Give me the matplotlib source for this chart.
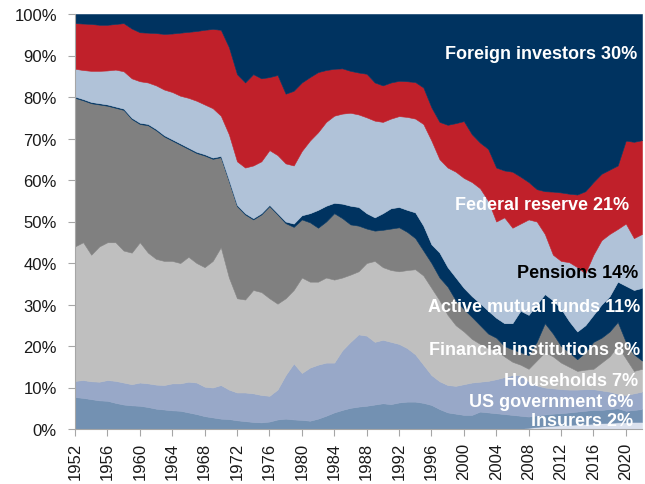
#
# Who holds US Treasuries: stacked shares 1952-2022
#

import numpy as np
import matplotlib.pyplot as plt

plt.rcParams['font.family'] = ['Liberation Sans', 'DejaVu Sans']

years = np.arange(1952, 2023)

# cumulative level (top edge, % of total) of each holder group, bottom to top
other_top = [0.0] * 56 + [0.3, 0.5, 0.7, 0.8, 0.9, 1.0, 1.1, 1.2, 1.3, 1.4, 1.5, 1.6, 1.6, 1.7, 1.7]

insurers_top = [7.7, 7.5, 7.2, 6.9, 6.8, 6.3, 5.9, 5.7, 5.6, 5.3,
                4.9, 4.7, 4.5, 4.4, 4.0, 3.6, 3.1, 2.8, 2.5, 2.4,
                2.1, 1.9, 1.7, 1.6, 1.8, 2.3, 2.5, 2.3, 2.2, 2.0,
                2.5, 3.2, 4.0, 4.6, 5.1, 5.4, 5.6, 5.9, 6.2, 6.0,
                6.4, 6.6, 6.6, 6.3, 5.8, 4.8, 4.0, 3.7, 3.4, 3.4,
                4.2, 4.0, 3.8, 3.6, 3.4, 3.2, 3.0, 3.3, 3.5, 3.7,
                3.8, 4.0, 4.2, 4.4, 4.6, 4.6, 4.8, 5.0, 4.4, 4.6,
                4.8]

usgov_top = [11.6, 11.8, 11.5, 11.4, 11.8, 11.6, 11.2, 10.8, 11.2, 11.0,
             10.7, 10.6, 11.0, 11.0, 11.4, 11.2, 10.2, 10.0, 10.6, 9.5,
             8.8, 8.8, 8.6, 8.2, 8.0, 9.5, 13.0, 15.8, 13.5, 14.8,
             15.5, 16.0, 16.0, 19.0, 21.0, 22.8, 22.5, 21.0, 21.5, 21.0,
             20.5, 19.5, 18.0, 15.5, 13.0, 11.5, 10.6, 10.4, 10.8, 11.2,
             11.4, 11.6, 12.0, 12.5, 13.0, 13.0, 11.5, 10.5, 10.0, 9.8,
             9.6, 9.5, 9.5, 9.6, 9.6, 9.3, 9.0, 8.5, 8.2, 8.6,
             9.0]

households_top = [44.0, 45.0, 42.0, 44.0, 45.0, 45.0, 43.0, 42.5, 45.0, 42.5,
                  41.0, 40.5, 40.5, 40.0, 41.5, 40.0, 39.0, 40.5, 43.8, 36.5,
                  31.5, 31.2, 33.5, 33.0, 31.5, 30.2, 31.5, 33.5, 36.5, 35.5,
                  35.5, 36.5, 36.0, 36.5, 37.2, 38.0, 40.0, 40.5, 39.0, 38.3,
                  38.0, 38.3, 38.5, 37.0, 34.0, 31.0, 27.5, 25.0, 23.5, 21.7,
                  20.5, 19.5, 19.0, 17.5, 16.2, 15.5, 14.5, 16.5, 18.5, 17.5,
                  16.0, 15.0, 14.0, 14.3, 14.5, 16.0, 17.5, 20.0, 17.0, 14.0,
                  14.5]

financial_top = [79.8, 79.2, 78.5, 78.2, 77.9, 77.4, 76.9, 74.7, 73.5, 73.2,
                 72.0, 70.5, 69.5, 68.5, 67.5, 66.5, 65.9, 65.1, 65.5, 59.7,
                 53.7, 51.7, 50.5, 51.7, 53.7, 51.7, 49.6, 48.7, 50.5, 49.8,
                 48.5, 50.0, 52.0, 50.8, 49.3, 49.0, 48.3, 47.8, 48.0, 48.3,
                 48.6, 47.5, 46.0, 43.0, 40.0, 36.5, 34.3, 31.0, 28.9, 27.0,
                 25.0, 23.0, 22.0, 20.0, 19.2, 18.5, 17.8, 21.0, 25.5, 23.0,
                 20.0, 18.5, 16.8, 18.5, 21.0, 22.0, 23.5, 25.8, 21.0, 18.0,
                 16.5]

mutual_top = [80.1, 79.5, 78.8, 78.5, 78.2, 77.7, 77.2, 75.0, 73.8, 73.5,
              72.3, 70.8, 69.8, 68.8, 67.8, 66.8, 66.2, 65.4, 65.8, 60.0,
              54.0, 52.0, 50.8, 52.0, 54.0, 52.0, 50.0, 49.5, 51.5, 52.0,
              52.8, 53.8, 54.5, 54.3, 53.8, 53.5, 52.0, 51.0, 52.0, 53.2,
              53.5, 52.8, 52.2, 49.0, 44.5, 42.5, 39.0, 36.5, 34.0, 32.0,
              30.3, 28.5, 26.8, 25.5, 25.5, 28.5, 27.5, 30.0, 32.5, 31.0,
              29.0, 26.0, 23.5, 25.0, 27.5, 30.0, 32.0, 35.5, 34.5, 33.5,
              34.0]

pensions_top = [86.8, 86.5, 86.3, 86.3, 86.4, 86.6, 86.2, 84.5, 83.8, 83.5,
                82.8, 81.8, 81.2, 80.3, 79.8, 79.1, 78.2, 77.3, 75.5, 71.0,
                64.5, 63.0, 63.5, 64.5, 67.2, 66.0, 64.0, 63.5, 67.0, 69.5,
                71.5, 74.0, 75.5, 76.0, 76.2, 75.8, 75.1, 74.3, 74.0, 74.8,
                75.4, 75.2, 74.8, 73.5, 69.5, 65.0, 63.0, 62.0, 60.5, 59.5,
                58.0, 55.0, 50.0, 51.0, 48.5, 49.5, 50.5, 50.0, 47.0, 42.0,
                40.5, 40.2, 39.0, 37.5, 42.0, 45.5, 47.0, 48.2, 49.5, 46.0,
                47.0]

fed_top = [97.8, 97.7, 97.6, 97.4, 97.4, 97.6, 97.8, 96.5, 95.6, 95.5,
           95.4, 95.2, 95.3, 95.5, 95.7, 95.9, 96.2, 96.4, 96.2, 92.0,
           85.5, 83.5, 85.5, 84.5, 84.8, 85.3, 80.8, 81.5, 83.5, 84.8,
           86.0, 86.5, 86.8, 86.9, 86.3, 85.9, 85.6, 83.5, 82.8, 83.5,
           83.9, 83.8, 83.6, 82.3, 77.5, 74.0, 73.3, 73.7, 74.2, 71.0,
           69.0, 67.5, 63.0, 62.3, 62.0, 60.8, 59.5, 57.8, 57.3, 57.2,
           57.0, 56.7, 56.5, 57.3, 59.5, 61.5, 62.5, 63.5, 69.5, 69.2,
           69.6]

foreign_top = [100.0] * len(years)

levels = [np.zeros(len(years)), other_top, insurers_top, usgov_top, households_top,
          financial_top, mutual_top, pensions_top, fed_top, foreign_top]
colors = ['#dce2ee', '#7391b2', '#98a8c8', '#bfbfbf', '#808080',
          '#003360', '#b0c2d8', '#c0202a', '#003360']

labels = ['Foreign investors 30%', 'Federal reserve 21%', 'Pensions 14%',
          'Active mutual funds 11%', 'Financial institutions 8%',
          'Households 7%', 'US government 6%', 'Insurers 2%']

fig = plt.figure(figsize=(6.45, 4.85), dpi=100)
ax = fig.add_axes([75 / 645, 55 / 485, 567 / 645, 415 / 485])

for lo, hi, c in zip(levels[:-1], levels[1:], colors):
    ax.fill_between(years, lo, hi, color=c, lw=0.4, ec=c)

ax.set_xlim(1952, 2022)
ax.set_ylim(0, 100)
ax.set_xticks(np.arange(1952, 2021, 4))
ax.set_xticklabels([str(y) for y in range(1952, 2021, 4)], rotation=90)
ax.set_yticks(np.arange(0, 101, 10))
ax.set_yticklabels([f"{v}%" for v in range(0, 101, 10)])
ax.tick_params(axis='both', labelsize=12, colors='#a6a6a6', labelcolor='#1a1a1a', length=5)
ax.tick_params(axis='y', pad=8)
ax.tick_params(axis='x', pad=4)
for s in ['top', 'right']:
    ax.spines[s].set_visible(False)
for s in ['left', 'bottom']:
    ax.spines[s].set_color('#a6a6a6')

# series labels, right aligned at the end of the chart
label_pos = [(2021.4, 89.3), (2020.4, 53.0), (2021.5, 36.6), (2021.75, 28.5),
             (2021.75, 18.1), (2021.5, 10.7), (2020.9, 5.5), (2020.9, 1.0)]
for text, (x, y) in zip(labels, label_pos):
    col = 'black' if text.startswith('Pensions') else 'white'
    ax.text(x, y, text, ha='right', va='baseline', color=col,
            fontsize=13, fontweight='bold')

fig.savefig('out.png', dpi=100)
